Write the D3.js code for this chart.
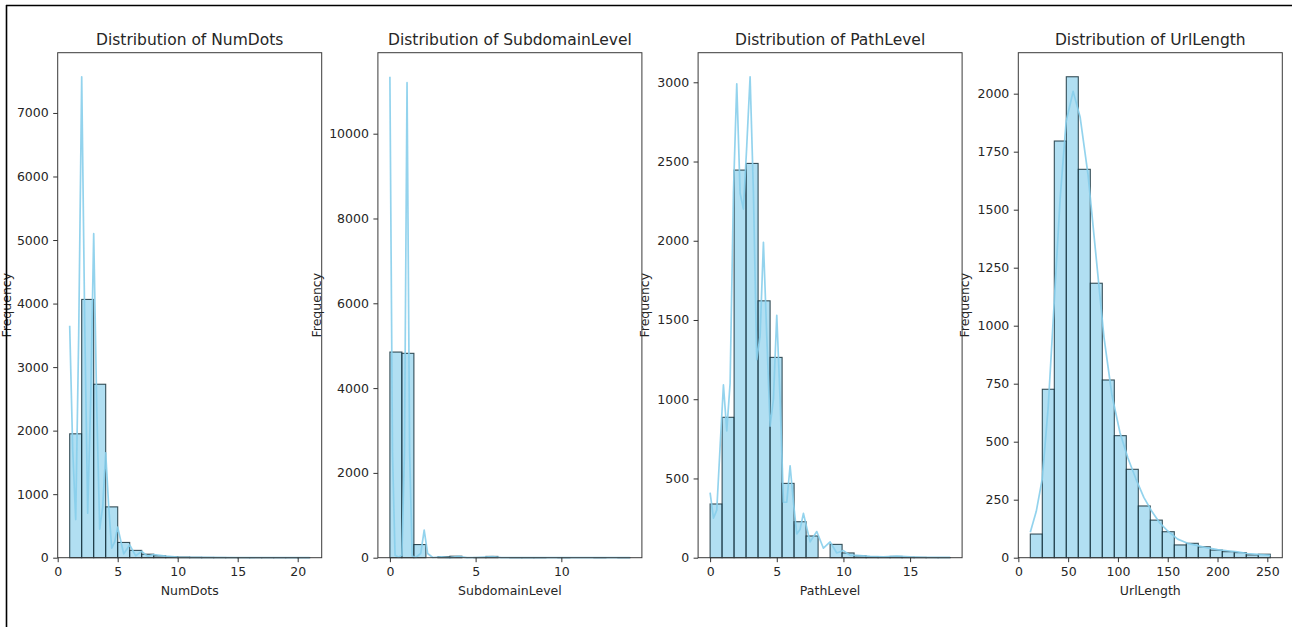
<!DOCTYPE html>
<html>
<head>
<meta charset="utf-8">
<script src="https://cdn.jsdelivr.net/npm/d3@7"></script>
<style>
  html, body { margin: 0; padding: 0; background: #fff; }
  svg { display: block; font-family: "DejaVu Sans", sans-serif; }
</style>
</head>
<body>
<svg id="chart" width="1292" height="627"></svg>
<script>
//
// Data
//

// NumDots: 20 bins over the data range
const numDotsRange = [1, 21];
const numDotsCounts = [1950, 4065, 2730, 800, 240, 115, 55, 30, 15, 10, 6, 4, 3, 2, 2, 1, 1, 1, 1, 1];
const numDotsKdeX = [1, 1.25, 1.5, 1.75, 2, 2.25, 2.5, 2.75, 3, 3.25, 3.5, 3.75, 4, 4.25, 4.5, 4.75, 5, 5.5, 6, 6.5, 7, 7.5, 8, 9, 10, 12, 15, 21];
const numDotsKdeY = [3650, 1700, 600, 3500, 7570, 3700, 700, 2500, 5100, 2400, 450, 800, 1650, 800, 150, 250, 480, 60, 200, 30, 100, 20, 50, 25, 10, 5, 3, 2];
const numDotsXTicks = [0, 5, 10, 15, 20];
const numDotsYTicks = [0, 1000, 2000, 3000, 4000, 5000, 6000, 7000];

// SubdomainLevel
const subdomainRange = [0, 14];
const subdomainCounts = [4850, 4820, 310, 0, 25, 35, 0, 5, 30, 0, 2, 1, 1, 0, 1, 0, 0, 1, 0, 1];
const subdomainKdeX = [0, 0.15, 0.3, 0.5, 0.7, 0.85, 1, 1.15, 1.3, 1.5, 1.8, 2, 2.2, 2.5, 3, 3.5, 4, 4.5, 5, 6, 6.5, 8, 10, 14];
const subdomainKdeY = [11343, 2500, 60, 10, 60, 2500, 11203, 2500, 40, 5, 100, 650, 100, 5, 20, 2, 30, 2, 5, 25, 2, 1, 1, 1];
const subdomainXTicks = [0, 5, 10];
const subdomainYTicks = [0, 2000, 4000, 6000, 8000, 10000];

// PathLevel
const pathLevelRange = [0, 18];
const pathLevelCounts = [339, 886, 2446, 2488, 1621, 1264, 469, 227, 137, 0, 84, 30, 12, 6, 4, 8, 3, 2, 1, 1];
const pathLevelKdeX = [0, 0.25, 0.5, 0.75, 1, 1.25, 1.5, 1.75, 2, 2.25, 2.5, 2.75, 3, 3.25, 3.5, 3.75, 4, 4.25, 4.5, 4.75, 5, 5.25, 5.5, 5.75, 6, 6.25, 6.5, 6.75, 7, 7.5, 8, 8.5, 9, 9.5, 10, 10.5, 11, 12, 13, 14, 15, 16, 17, 18];
const pathLevelKdeY = [410, 250, 300, 700, 1090, 800, 1100, 2300, 2990, 2300, 2200, 2600, 3035, 2300, 1250, 1400, 1990, 1400, 830, 1000, 1530, 1000, 350, 350, 580, 350, 150, 180, 280, 100, 165, 60, 100, 30, 45, 15, 15, 8, 5, 10, 5, 3, 2, 2];
const pathLevelXTicks = [0, 5, 10, 15];
const pathLevelYTicks = [0, 500, 1000, 1500, 2000, 2500, 3000];

// UrlLength
const urlLengthRange = [12, 253];
const urlLengthCounts = [102, 726, 1796, 2073, 1674, 1183, 766, 526, 381, 223, 162, 112, 55, 62, 47, 33, 26, 22, 12, 15];
const urlLengthKdeX = [12, 18, 24, 30, 36, 42, 48, 55, 62, 70, 78, 86, 94, 102, 110, 118, 126, 134, 142, 150, 160, 170, 180, 190, 200, 210, 220, 230, 240, 253];
const urlLengthKdeY = [110, 200, 340, 650, 1100, 1550, 1880, 2010, 1900, 1650, 1300, 950, 700, 540, 430, 340, 260, 200, 150, 115, 80, 62, 52, 42, 35, 30, 25, 18, 14, 10];
const urlLengthXTicks = [0, 50, 100, 150, 200, 250];
const urlLengthYTicks = [0, 250, 500, 750, 1000, 1250, 1500, 1750, 2000];

const panels = [
  {name: 'NumDots', range: numDotsRange, counts: numDotsCounts, kx: numDotsKdeX, ky: numDotsKdeY, xt: numDotsXTicks, yt: numDotsYTicks},
  {name: 'SubdomainLevel', range: subdomainRange, counts: subdomainCounts, kx: subdomainKdeX, ky: subdomainKdeY, xt: subdomainXTicks, yt: subdomainYTicks},
  {name: 'PathLevel', range: pathLevelRange, counts: pathLevelCounts, kx: pathLevelKdeX, ky: pathLevelKdeY, xt: pathLevelXTicks, yt: pathLevelYTicks},
  {name: 'UrlLength', range: urlLengthRange, counts: urlLengthCounts, kx: urlLengthKdeX, ky: urlLengthKdeY, xt: urlLengthXTicks, yt: urlLengthYTicks}
];

//
// Layout
//
const axLeft0 = 57.7;
const axStep = 320.2;
const axWidth = 264;
const axTop = 52.7;
const axBottom = 557.7;
const barColor = 'skyblue';
const fontTick = 12.5;

const svg = d3.select('#chart');

panels.forEach((p, i) => {
  const left = axLeft0 + i * axStep;
  const [lo, hi] = p.range;
  const nBins = p.counts.length;
  const binW = (hi - lo) / nBins;
  const pad = (hi - lo) * 0.05;
  const ymax = 1.05 * Math.max(d3.max(p.counts), d3.max(p.ky));

  const x = d3.scaleLinear().domain([lo - pad, hi + pad]).range([left, left + axWidth]);
  const y = d3.scaleLinear().domain([0, ymax]).range([axBottom, axTop]);

  const g = svg.append('g');

  // bars
  g.selectAll('rect.bar').data(p.counts).join('rect')
      .attr('class', 'bar')
      .attr('x', (d, k) => x(lo + k * binW))
      .attr('width', (d, k) => x(lo + (k + 1) * binW) - x(lo + k * binW))
      .attr('y', d => y(d))
      .attr('height', d => y(0) - y(d))
      .attr('fill', barColor).attr('fill-opacity', 0.65)
      .attr('stroke', '#0b2530').attr('stroke-opacity', 0.8).attr('stroke-width', 1.1);

  // kde line
  const line = d3.line().x(d => x(d[0])).y(d => y(d[1]));
  g.append('path')
      .datum(d3.zip(p.kx, p.ky))
      .attr('d', line)
      .attr('fill', 'none')
      .attr('stroke', barColor)
      .attr('stroke-opacity', 0.9)
      .attr('stroke-width', 1.7)
      .attr('stroke-linejoin', 'round');

  // spines
  g.append('rect')
      .attr('x', left).attr('y', axTop)
      .attr('width', axWidth).attr('height', axBottom - axTop)
      .attr('fill', 'none').attr('stroke', '#3a3a3a').attr('stroke-width', 1);

  // axes
  const xAxis = g.append('g')
      .attr('transform', `translate(0,${axBottom})`)
      .call(d3.axisBottom(x).tickValues(p.xt).tickFormat(d3.format('d')).tickSize(4.5).tickPadding(4.5));
  const yAxis = g.append('g')
      .attr('transform', `translate(${left},0)`)
      .call(d3.axisLeft(y).tickValues(p.yt).tickFormat(d3.format('d')).tickSize(4.5).tickPadding(4.5));
  [xAxis, yAxis].forEach(a => {
    a.select('.domain').remove();
    a.selectAll('line').attr('stroke', '#333');
    a.selectAll('text').attr('font-size', fontTick).attr('fill', '#262626')
        .attr('font-family', '"DejaVu Sans", sans-serif');
  });

  // title
  g.append('text')
      .attr('x', left + axWidth / 2).attr('y', axTop - 8)
      .attr('text-anchor', 'middle')
      .attr('font-size', 15.5).attr('fill', '#262626')
      .text('Distribution of ' + p.name);

  // x label
  g.append('text')
      .attr('x', left + axWidth / 2).attr('y', axBottom + 37)
      .attr('text-anchor', 'middle')
      .attr('font-size', fontTick).attr('fill', '#262626')
      .text(p.name);

  // y label, placed left of the tick labels (kept inside the page)
  const bb = yAxis.node().getBBox();
  const lx = Math.max(left + bb.x - 8, 11);
  g.append('text')
      .attr('transform', `translate(${lx},${(axTop + axBottom) / 2}) rotate(-90)`)
      .attr('text-anchor', 'middle')
      .attr('font-size', fontTick).attr('fill', '#262626')
      .text('Frequency');
});

// frame lines of the screenshot, drawn last so they sit on top
svg.append('line').attr('x1', 6).attr('x2', 1292).attr('y1', 5.5).attr('y2', 5.5)
    .attr('stroke', '#000').attr('stroke-width', 1.6);
svg.append('line').attr('x1', 6.5).attr('x2', 6.5).attr('y1', 5).attr('y2', 627)
    .attr('stroke', '#000').attr('stroke-width', 1.6);
</script>
</body>
</html>
